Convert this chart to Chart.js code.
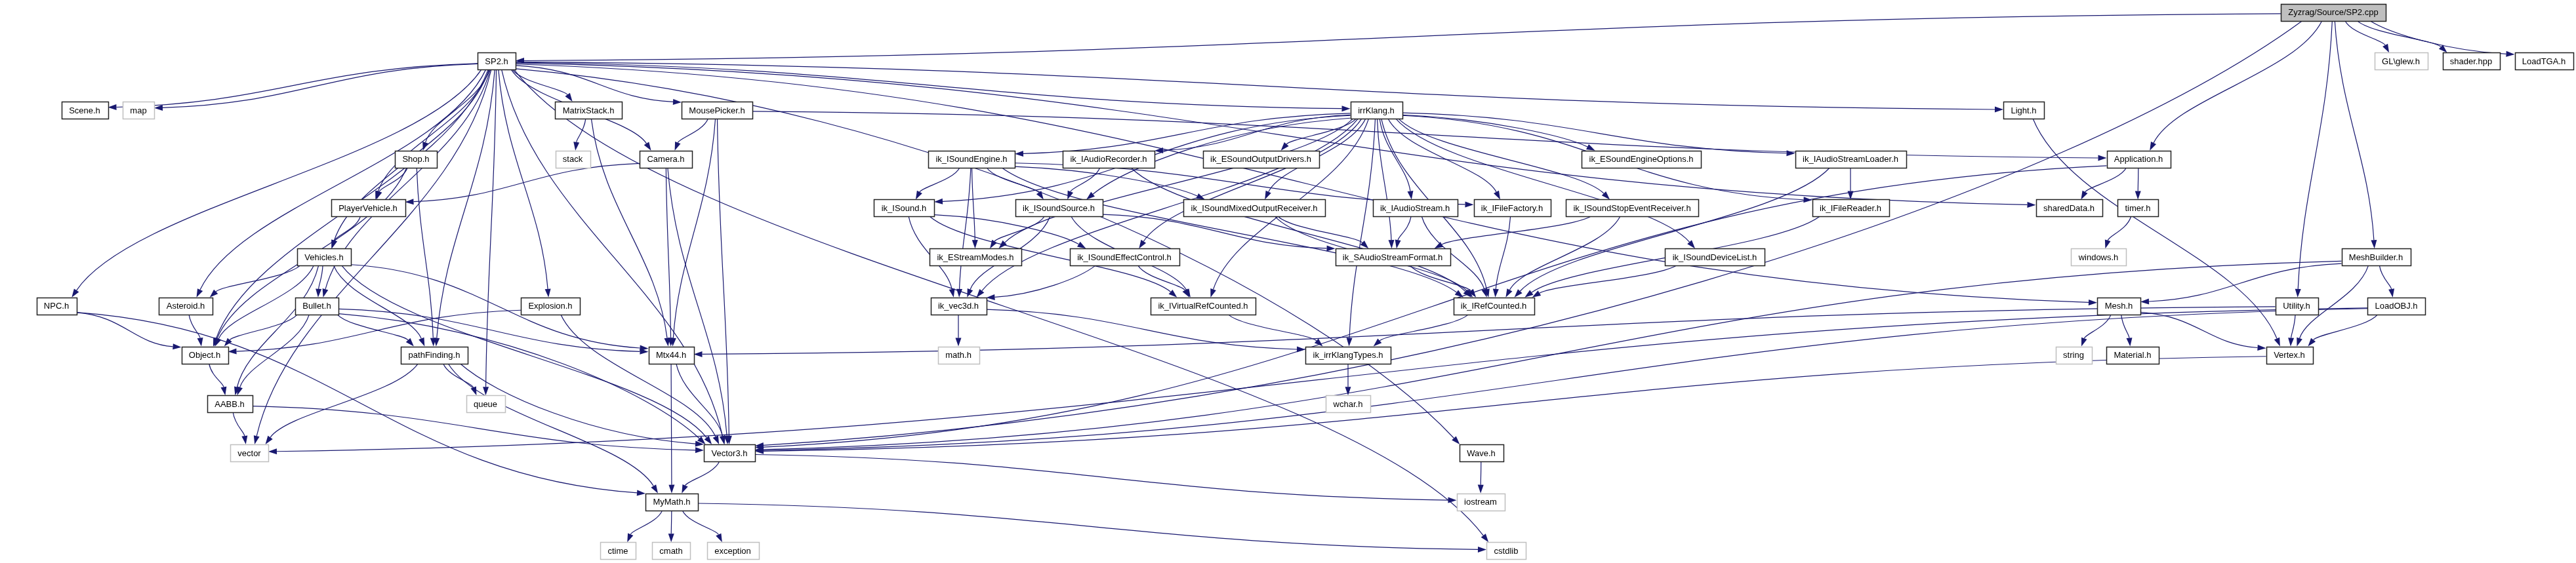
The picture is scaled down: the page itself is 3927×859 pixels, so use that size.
<!DOCTYPE html>
<html>
<head>
<meta charset="utf-8">
<title>Zyzrag/Source/SP2.cpp include dependency graph</title>
<script src="https://cdn.jsdelivr.net/npm/chart.js@4.4.1/dist/chart.umd.min.js"></script>
<style>
  html, body { margin: 0; padding: 0; background: #fff; }
  #graph { display: block; }
</style>
</head>
<body>
<canvas id="graph" width="3927" height="859"></canvas>
<script>
// nodes: file name, horizontal centre (graph units) and rank (row)
const nodeNames = [
  'Zyzrag/Source/SP2.cpp',
  'SP2.h', 'GL\\glew.h', 'shader.hpp', 'LoadTGA.h',
  'Scene.h', 'map', 'MatrixStack.h', 'MousePicker.h', 'irrKlang.h', 'Light.h',
  'Shop.h', 'stack', 'Camera.h', 'ik_ISoundEngine.h', 'ik_IAudioRecorder.h', 'ik_ESoundOutputDrivers.h',
  'ik_ESoundEngineOptions.h', 'ik_IAudioStreamLoader.h', 'Application.h',
  'PlayerVehicle.h', 'ik_ISound.h', 'ik_ISoundSource.h', 'ik_ISoundMixedOutputReceiver.h', 'ik_IAudioStream.h',
  'ik_IFileFactory.h', 'ik_ISoundStopEventReceiver.h', 'ik_IFileReader.h', 'sharedData.h', 'timer.h',
  'Vehicles.h', 'ik_EStreamModes.h', 'ik_ISoundEffectControl.h', 'ik_SAudioStreamFormat.h', 'ik_ISoundDeviceList.h',
  'windows.h', 'MeshBuilder.h',
  'NPC.h', 'Asteroid.h', 'Bullet.h', 'Explosion.h', 'ik_vec3d.h', 'ik_IVirtualRefCounted.h', 'ik_IRefCounted.h',
  'Mesh.h', 'Utility.h', 'LoadOBJ.h',
  'Object.h', 'pathFinding.h', 'Mtx44.h', 'math.h', 'ik_irrKlangTypes.h', 'string', 'Material.h', 'Vertex.h',
  'AABB.h', 'queue', 'wchar.h',
  'vector', 'Vector3.h', 'Wave.h',
  'MyMath.h', 'iostream',
  'ctime', 'cmath', 'exception', 'cstdlib'
];
const nodeX = [
  3557,
  757, 3660, 3767, 3878,
  129, 211, 897, 1093, 2098, 3085,
  634, 873, 1015, 1481, 1690, 1922,
  2502, 2821, 3260,
  561, 1378, 1614, 1912, 2157,
  2305, 2488, 2821, 3154, 3259,
  494, 1487, 1714, 2123, 2614,
  3199, 3622,
  86, 283, 483, 839, 1461, 1834, 2277,
  3230, 3501, 3653,
  312, 662, 1023, 1461, 2055, 3161, 3251, 3490,
  350, 740, 2055,
  380, 1112, 2258,
  1024, 2257,
  942, 1023, 1117, 2296
];
const nodeRank = [
  0,
  1, 1, 1, 1,
  2, 2, 2, 2, 2, 2,
  3, 3, 3, 3, 3, 3,
  3, 3, 3,
  4, 4, 4, 4, 4,
  4, 4, 4, 4, 4,
  5, 5, 5, 5, 5,
  5, 5,
  6, 6, 6, 6, 6, 6, 6,
  6, 6, 6,
  7, 7, 7, 7, 7, 7, 7, 7,
  8, 8, 8,
  9, 9, 9,
  10, 10,
  11, 11, 11, 11
];
// headers found outside the project (drawn with a grey frame)
const systemHeaders = ['GL\\glew.h', 'map', 'stack', 'windows.h', 'math.h', 'string', 'queue', 'wchar.h',
  'vector', 'iostream', 'ctime', 'cmath', 'exception', 'cstdlib'];
const rootNode = 'Zyzrag/Source/SP2.cpp';

// includes: [from, to]
const edges = [
  ['Zyzrag/Source/SP2.cpp', 'SP2.h'], ['Zyzrag/Source/SP2.cpp', 'GL\\glew.h'],
  ['Zyzrag/Source/SP2.cpp', 'shader.hpp'], ['Zyzrag/Source/SP2.cpp', 'LoadTGA.h'],
  ['Zyzrag/Source/SP2.cpp', 'Application.h'], ['Zyzrag/Source/SP2.cpp', 'MeshBuilder.h'],
  ['Zyzrag/Source/SP2.cpp', 'Utility.h'], ['Zyzrag/Source/SP2.cpp', 'Vector3.h'],

  ['SP2.h', 'Scene.h'], ['SP2.h', 'map'], ['SP2.h', 'NPC.h'], ['SP2.h', 'vector'],
  ['SP2.h', 'Object.h'], ['SP2.h', 'Asteroid.h'], ['SP2.h', 'Bullet.h'], ['SP2.h', 'Vehicles.h'],
  ['SP2.h', 'PlayerVehicle.h'], ['SP2.h', 'Shop.h'], ['SP2.h', 'pathFinding.h'], ['SP2.h', 'queue'],
  ['SP2.h', 'Explosion.h'], ['SP2.h', 'MatrixStack.h'], ['SP2.h', 'Camera.h'], ['SP2.h', 'MousePicker.h'],
  ['SP2.h', 'irrKlang.h'], ['SP2.h', 'Light.h'], ['SP2.h', 'sharedData.h'], ['SP2.h', 'Mesh.h'],
  ['SP2.h', 'Vector3.h'], ['SP2.h', 'Wave.h'], ['SP2.h', 'cstdlib'],

  ['MatrixStack.h', 'stack'], ['MatrixStack.h', 'Mtx44.h'],
  ['MousePicker.h', 'Camera.h'], ['MousePicker.h', 'Mtx44.h'], ['MousePicker.h', 'Vector3.h'],
  ['MousePicker.h', 'Application.h'],
  ['Camera.h', 'PlayerVehicle.h'], ['Camera.h', 'Mtx44.h'], ['Camera.h', 'Vector3.h'],
  ['Shop.h', 'PlayerVehicle.h'], ['Shop.h', 'Object.h'], ['Shop.h', 'pathFinding.h'],
  ['PlayerVehicle.h', 'Vehicles.h'],
  ['Vehicles.h', 'Asteroid.h'], ['Vehicles.h', 'Bullet.h'], ['Vehicles.h', 'Object.h'], ['Vehicles.h', 'AABB.h'],
  ['Vehicles.h', 'pathFinding.h'], ['Vehicles.h', 'Mtx44.h'], ['Vehicles.h', 'Vector3.h'],
  ['NPC.h', 'Object.h'], ['NPC.h', 'MyMath.h'],
  ['Asteroid.h', 'Object.h'],
  ['Bullet.h', 'Object.h'], ['Bullet.h', 'AABB.h'], ['Bullet.h', 'pathFinding.h'], ['Bullet.h', 'Mtx44.h'],
  ['Bullet.h', 'Vector3.h'],
  ['Explosion.h', 'Object.h'], ['Explosion.h', 'Vector3.h'],
  ['Object.h', 'AABB.h'],
  ['pathFinding.h', 'queue'], ['pathFinding.h', 'vector'], ['pathFinding.h', 'Vector3.h'], ['pathFinding.h', 'MyMath.h'],
  ['AABB.h', 'vector'], ['AABB.h', 'Vector3.h'],
  ['Mtx44.h', 'Vector3.h'], ['Mtx44.h', 'MyMath.h'],
  ['Vector3.h', 'MyMath.h'], ['Vector3.h', 'iostream'],
  ['MyMath.h', 'ctime'], ['MyMath.h', 'cmath'], ['MyMath.h', 'exception'], ['MyMath.h', 'cstdlib'],

  ['irrKlang.h', 'ik_ISoundEngine.h'], ['irrKlang.h', 'ik_IAudioRecorder.h'], ['irrKlang.h', 'ik_ESoundOutputDrivers.h'],
  ['irrKlang.h', 'ik_ESoundEngineOptions.h'], ['irrKlang.h', 'ik_IAudioStreamLoader.h'], ['irrKlang.h', 'ik_ISound.h'],
  ['irrKlang.h', 'ik_ISoundSource.h'], ['irrKlang.h', 'ik_ISoundMixedOutputReceiver.h'], ['irrKlang.h', 'ik_IAudioStream.h'],
  ['irrKlang.h', 'ik_IFileFactory.h'], ['irrKlang.h', 'ik_ISoundStopEventReceiver.h'], ['irrKlang.h', 'ik_IFileReader.h'],
  ['irrKlang.h', 'ik_EStreamModes.h'], ['irrKlang.h', 'ik_ISoundEffectControl.h'], ['irrKlang.h', 'ik_SAudioStreamFormat.h'],
  ['irrKlang.h', 'ik_ISoundDeviceList.h'], ['irrKlang.h', 'ik_vec3d.h'], ['irrKlang.h', 'ik_IVirtualRefCounted.h'],
  ['irrKlang.h', 'ik_IRefCounted.h'], ['irrKlang.h', 'ik_irrKlangTypes.h'],
  ['ik_ISoundEngine.h', 'ik_ISound.h'], ['ik_ISoundEngine.h', 'ik_ISoundSource.h'], ['ik_ISoundEngine.h', 'ik_EStreamModes.h'],
  ['ik_ISoundEngine.h', 'ik_vec3d.h'], ['ik_ISoundEngine.h', 'ik_ISoundMixedOutputReceiver.h'],
  ['ik_ISoundEngine.h', 'ik_IFileFactory.h'], ['ik_ISoundEngine.h', 'ik_IRefCounted.h'],
  ['ik_IAudioRecorder.h', 'ik_ISoundSource.h'], ['ik_IAudioRecorder.h', 'ik_IRefCounted.h'],
  ['ik_ISound.h', 'ik_ISoundEffectControl.h'], ['ik_ISound.h', 'ik_vec3d.h'], ['ik_ISound.h', 'ik_IVirtualRefCounted.h'],
  ['ik_ISoundSource.h', 'ik_EStreamModes.h'], ['ik_ISoundSource.h', 'ik_vec3d.h'],
  ['ik_ISoundSource.h', 'ik_IVirtualRefCounted.h'], ['ik_ISoundSource.h', 'ik_SAudioStreamFormat.h'],
  ['ik_ISoundEffectControl.h', 'ik_vec3d.h'], ['ik_ISoundEffectControl.h', 'ik_IVirtualRefCounted.h'],
  ['ik_ISoundMixedOutputReceiver.h', 'ik_SAudioStreamFormat.h'], ['ik_ISoundMixedOutputReceiver.h', 'ik_IRefCounted.h'],
  ['ik_IAudioStream.h', 'ik_SAudioStreamFormat.h'], ['ik_IAudioStream.h', 'ik_IRefCounted.h'],
  ['ik_IFileFactory.h', 'ik_IRefCounted.h'],
  ['ik_ISoundStopEventReceiver.h', 'ik_SAudioStreamFormat.h'], ['ik_ISoundStopEventReceiver.h', 'ik_IRefCounted.h'],
  ['ik_IAudioStreamLoader.h', 'ik_IFileReader.h'], ['ik_IAudioStreamLoader.h', 'ik_IRefCounted.h'],
  ['ik_IFileReader.h', 'ik_IRefCounted.h'],
  ['ik_ISoundDeviceList.h', 'ik_IRefCounted.h'],
  ['ik_SAudioStreamFormat.h', 'ik_IRefCounted.h'],
  ['ik_IVirtualRefCounted.h', 'ik_irrKlangTypes.h'],
  ['ik_IRefCounted.h', 'ik_irrKlangTypes.h'],
  ['ik_vec3d.h', 'math.h'], ['ik_vec3d.h', 'ik_irrKlangTypes.h'],
  ['ik_irrKlangTypes.h', 'wchar.h'],

  ['Light.h', 'Vertex.h'],
  ['Application.h', 'sharedData.h'], ['Application.h', 'timer.h'], ['Application.h', 'Vector3.h'],
  ['timer.h', 'windows.h'],
  ['Mesh.h', 'string'], ['Mesh.h', 'Material.h'], ['Mesh.h', 'Vertex.h'],
  ['MeshBuilder.h', 'Mesh.h'], ['MeshBuilder.h', 'Vertex.h'], ['MeshBuilder.h', 'LoadOBJ.h'], ['MeshBuilder.h', 'Vector3.h'],
  ['Utility.h', 'Mtx44.h'], ['Utility.h', 'Vertex.h'],
  ['LoadOBJ.h', 'Vertex.h'], ['LoadOBJ.h', 'Vector3.h'], ['LoadOBJ.h', 'vector'],
  ['Vertex.h', 'Vector3.h'],
  ['Wave.h', 'iostream']
];

const EDGE_COLOR = '#191970';
const FONT = '13px "Liberation Sans", Arial, Helvetica, sans-serif';
const BOX_HALF_H = 13;
const BOX_PAD = 23;

// where the ray from the box centre along (dx, dy) leaves the box, and through which side
function clipToBox(c, hw, hh, dx, dy) {
  const tx = dx !== 0 ? hw / Math.abs(dx) : Infinity;
  const ty = dy !== 0 ? hh / Math.abs(dy) : Infinity;
  const t = Math.min(tx, ty);
  return { x: c.x + dx * t, y: c.y + dy * t, side: tx < ty };
}

const graphPlugin = {
  id: 'includeGraph',
  afterDatasetsDraw(chart) {
    const { ctx, scales } = chart;
    ctx.save();
    ctx.font = FONT;

    const boxes = {};
    nodeNames.forEach((name, i) => {
      boxes[name] = {
        x: scales.x.getPixelForValue(nodeX[i]),
        y: scales.y.getPixelForValue(nodeRank[i]),
        hw: Math.round(ctx.measureText(name).width + BOX_PAD) / 2
      };
    });

    // edges: splines that leave / enter along the side they cross
    ctx.strokeStyle = EDGE_COLOR;
    ctx.fillStyle = EDGE_COLOR;
    ctx.lineWidth = 1.2;
    edges.forEach(([from, to]) => {
      const a = boxes[from], b = boxes[to];
      if (!a || !b) return;
      const dx = b.x - a.x, dy = b.y - a.y;
      const p0 = clipToBox(a, a.hw, BOX_HALF_H, dx, dy);
      const p3 = clipToBox(b, b.hw, BOX_HALF_H, -dx, -dy);
      const ex = p3.x - p0.x, ey = p3.y - p0.y;
      const c1 = p0.side
        ? { x: p0.x + ex * 0.45, y: p0.y + ey * 0.1 }
        : { x: p0.x + ex * 0.15, y: p0.y + ey * 0.4 };
      const c2 = p3.side
        ? { x: p3.x - ex * 0.45, y: p3.y - ey * 0.1 }
        : { x: p3.x - ex * 0.15, y: p3.y - ey * 0.4 };

      let ux = p3.x - c2.x, uy = p3.y - c2.y;
      const len = Math.hypot(ux, uy) || 1;
      ux /= len; uy /= len;
      const headLen = 13, headW = 4.5;
      const base = { x: p3.x - ux * headLen, y: p3.y - uy * headLen };

      ctx.beginPath();
      ctx.moveTo(p0.x, p0.y);
      ctx.bezierCurveTo(c1.x, c1.y, c2.x, c2.y, base.x, base.y);
      ctx.stroke();

      ctx.beginPath();
      ctx.moveTo(p3.x, p3.y);
      ctx.lineTo(base.x - uy * headW, base.y + ux * headW);
      ctx.lineTo(base.x + uy * headW, base.y - ux * headW);
      ctx.closePath();
      ctx.fill();
    });

    // nodes
    ctx.textAlign = 'center';
    ctx.textBaseline = 'middle';
    nodeNames.forEach(name => {
      const b = boxes[name];
      const left = Math.round(b.x - b.hw) + 0.5;
      const top = Math.round(b.y - BOX_HALF_H) + 0.5;
      const w = Math.round(b.hw * 2), h = BOX_HALF_H * 2;
      const isSystem = systemHeaders.includes(name);
      ctx.fillStyle = name === rootNode ? '#bfbfbf' : '#ffffff';
      ctx.fillRect(left, top, w, h);
      ctx.lineWidth = 1.5;
      ctx.strokeStyle = isSystem ? '#bfbfbf' : '#222222';
      ctx.strokeRect(left, top, w, h);
      ctx.fillStyle = '#000000';
      ctx.fillText(name, b.x, b.y + 1);
    });
    ctx.restore();
  }
};

const ctx = document.getElementById('graph').getContext('2d');
const graph = new Chart(ctx, {
  type: 'scatter',
  data: {
    datasets: [{
      label: 'headers',
      data: nodeNames.map((name, i) => ({ x: nodeX[i], y: nodeRank[i] })),
      pointRadius: 0,
      pointHoverRadius: 0
    }]
  },
  options: {
    responsive: false,
    animation: false,
    devicePixelRatio: 1,
    layout: { padding: 0 },
    events: [],
    scales: {
      x: { type: 'linear', min: 0, max: 3927, display: false },
      y: { type: 'linear', min: -0.25, max: 11.25, reverse: true, display: false }
    },
    plugins: {
      legend: { display: false },
      tooltip: { enabled: false }
    }
  },
  plugins: [graphPlugin]
});
</script>
</body>
</html>
